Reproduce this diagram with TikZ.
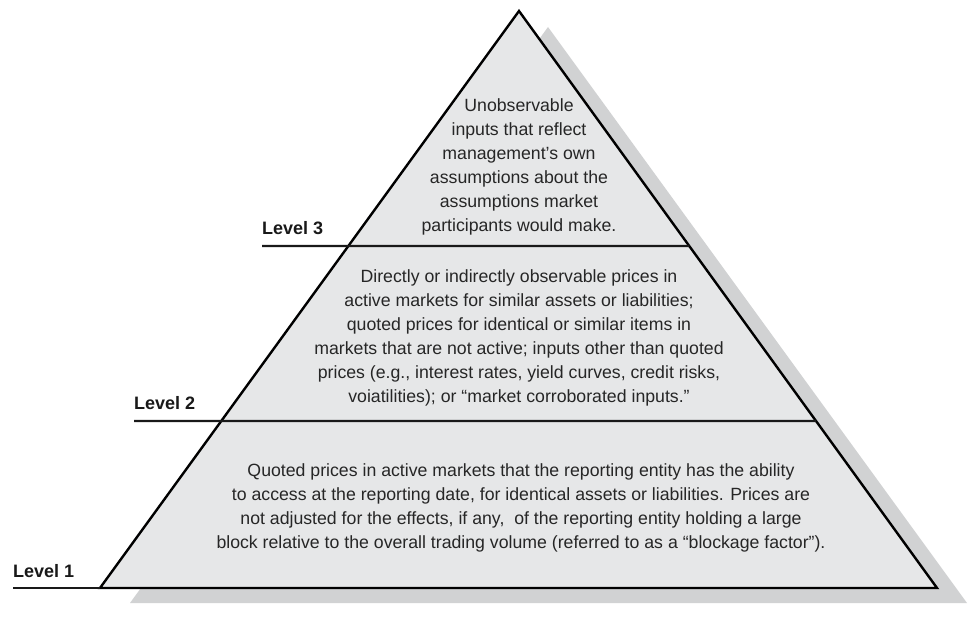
\documentclass[tikz,border=0pt]{standalone}
\usepackage{fontspec}
\setmainfont{Liberation Sans}
\definecolor{pyrfill}{RGB}{230,231,232}
\definecolor{pyrshadow}{RGB}{209,210,211}
\definecolor{pyrtext}{RGB}{38,38,38}
\usepackage{tikz}
\usetikzlibrary{calc}

\begin{document}
\begin{tikzpicture}[x=1pt,y=-1pt]

%
% Styles
%
\tikzstyle{backshadow} = [fill=pyrshadow]
\tikzstyle{pyramid}    = [fill=pyrfill,draw=black,line width=2.4pt,line join=miter]
\tikzstyle{divider}    = [draw=black!90,line width=2.2pt]
\tikzstyle{tier}       = [align=center,text=pyrtext,inner sep=0pt,anchor=base,font=\fontsize{17.7}{24}\selectfont]
\tikzstyle{levellabel} = [inner sep=0pt,anchor=base west,text=black!90,font=\bfseries\fontsize{18}{20}\selectfont]

\useasboundingbox (0,0) rectangle (968,617);

\coordinate (apex) at (519, 11);
\coordinate (bl)   at (100,588);
\coordinate (br)   at (937,588);

\coordinate (sapex) at (548, 27);
\coordinate (sbl)   at (130,603);
\coordinate (sbr)   at (967,603);

\coordinate (l1start) at ( 13,588);
\coordinate (l2start) at (134,421);
\coordinate (l3start) at (262,246);
\coordinate (l2end)   at ($(apex)!0.7106!(br)$);
\coordinate (l3end)   at ($(apex)!0.4073!(br)$);

\fill[backshadow] (sapex) -- (sbr) -- (sbl) -- cycle;
\draw[pyramid] (apex) -- (br) -- (bl) -- cycle;

\draw[divider] (l1start) -- (bl);
\draw[divider] (l2start) -- (l2end);
\draw[divider] (l3start) -- (l3end);

\node[levellabel] (lev1) at ( 13,577) {Level 1};
\node[levellabel] (lev2) at (134,409) {Level 2};
\node[levellabel] (lev3) at (262,235) {Level 3};

% base anchor sits on the last line
\node[tier] (tier3) at (519,232) {Unobservable\\
  inputs that reflect\\
  management’s own\\
  assumptions about the\\
  assumptions market\\
  participants would make.};

\node[tier] (tier2) at (519,402) {Directly or indirectly observable prices in\\
  active markets for similar assets or liabilities;\\
  quoted prices for identical or similar items in\\
  markets that are not active; inputs other than quoted\\
  prices (e.g., interest rates, yield curves, credit risks,\\
  voiatilities); or “market corroborated inputs.”};

\node[tier] (tier1) at (521,548) {Quoted prices in active markets that the reporting entity has the ability\\
  to access at the reporting date, for identical assets or liabilities. Prices are\\
  not adjusted for the effects, if any,\ \ of the reporting entity holding a large\\
  block relative to the overall trading volume (referred to as a “blockage factor”).};

\end{tikzpicture}
\end{document}
